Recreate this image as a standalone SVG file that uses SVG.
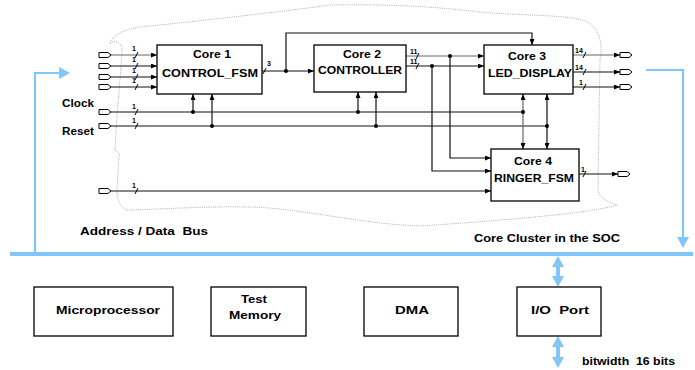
<svg xmlns="http://www.w3.org/2000/svg" width="695" height="370" viewBox="0 0 695 370">
<defs>
<style>
text{font-family:"Liberation Sans",Arial,Helvetica,sans-serif;font-weight:bold;fill:#000}
.t{font-size:10px;text-anchor:middle}
.l{font-size:10px}
.p{white-space:pre}
.n{font-size:7px}
.box{fill:#fff;stroke:#000;stroke-width:1.3}
.w{fill:none;stroke:#111;stroke-width:1.2}
.g{stroke:#666}
.a{marker-end:url(#ah)}
.aa{marker-start:url(#ah);marker-end:url(#ah)}
.port{fill:#fff;stroke:#000;stroke-width:1}
.tick{stroke:#000;stroke-width:1}
.dot{fill:#000}
.bl{fill:none;stroke:#80c6fb;stroke-width:2.2}
.bus{fill:none;stroke:#80c6fb;stroke-width:4}
.ba{marker-end:url(#bh)}
.bb{marker-start:url(#bh);marker-end:url(#bh)}
.cloud{fill:none;stroke:#999;stroke-width:0.8;stroke-dasharray:1 1.2}
</style>
<marker id="ah" markerWidth="6" markerHeight="5" refX="6" refY="2.5" orient="auto-start-reverse" markerUnits="userSpaceOnUse"><path d="M0,0 L6,2.5 L0,5z" fill="#000"/></marker>
<marker id="bh" markerWidth="11" markerHeight="12" refX="0" refY="6" orient="auto-start-reverse" markerUnits="userSpaceOnUse"><path d="M0,0 L11,6 L0,12z" fill="#80c6fb"/></marker>
<path id="port" d="M0,-2.5 H9 L12,0 L9,2.5 H0z"/>
</defs>

<!-- core cluster outline -->
<path class="cloud" d="M115,150 L116,130 C118,100 121,70 122,50 C122,42 114,39 110,44 C111,36 122,30 140,27 C190,22 280,12 330,5 C380,4 430,6 480,12 C520,16 570,14 588,22 C600,30 603,45 600,60 L598,188 C598,198 608,202 617,205 C590,214 480,222 420,226 C360,224 300,208 250,207 C200,206 150,210 127,210 C120,207 117,200 117,190 L119,156 C121,152 116,152 115,150"/>

<!-- blue bus system -->
<g id="bus">
<path class="bus" d="M10,254 H693"/>
<path class="bl ba" d="M35,253 V73 H59"/>
<path class="bl ba" d="M646,70 H683 V237"/>
<path class="bl bb" d="M558,267 V276" style="stroke-width:4"/>
<path class="bl bb" d="M558,347 V357" style="stroke-width:4"/>
</g>

<g id="connectors">
<!-- primary inputs to core 1 -->
<path class="w g a" d="M111,55 H157"/>
<path class="w a" d="M111,66 H157"/>
<path class="w a" d="M111,77 H157"/>
<path class="w a" d="M111,87 H157"/>
<!-- clock / reset -->
<path class="w" d="M111,112 H523"/>
<path class="w" d="M111,126 H547"/>
<path class="w a" d="M193,112 V94"/>
<path class="w a" d="M212,126 V94"/>
<path class="w a" d="M358,112 V92"/>
<path class="w a" d="M376,126 V92"/>
<path class="w g aa" d="M523,94 V149"/>
<path class="w aa" d="M547,94 V149"/>
<!-- input to core 4 -->
<path class="w a" d="M111,191 H491"/>
<!-- core1 out -->
<path class="w a" d="M262,71 H314"/>
<path class="w a" d="M286,71 V33 H532 V45"/>
<!-- core2 outs -->
<path class="w g a" d="M406,56 H484"/>
<path class="w a" d="M406,66 H484"/>
<path class="w a" d="M432,66 V171 H491"/>
<path class="w a" d="M450,56 V158 H491"/>
<!-- core3 outs -->
<path class="w g a" d="M573,55 H620"/>
<path class="w a" d="M573,72 H620"/>
<path class="w a" d="M573,87 H620"/>
<!-- core4 out -->
<path class="w a" d="M579,174 H618"/>

<!-- junctions -->
<circle class="dot" cx="193" cy="112" r="2"/>
<circle class="dot" cx="212" cy="126" r="2"/>
<circle class="dot" cx="358" cy="112" r="2"/>
<circle class="dot" cx="376" cy="126" r="2"/>
<circle class="dot" cx="523" cy="112" r="2"/>
<circle class="dot" cx="547" cy="126" r="2"/>
<circle class="dot" cx="286" cy="71" r="2"/>
<circle class="dot" cx="450" cy="56" r="2"/>
<circle class="dot" cx="432" cy="66" r="2"/>

<!-- ticks -->
<path class="tick" d="M135,58 L138,52 M135,69 L138,63 M135,80 L138,74 M135,90 L138,84 M135,115 L138,109 M135,129 L138,123 M135,194 L138,188 M263,74 L266,68 M416,59 L419,53 M416,69 L419,63 M583,58 L586,52 M583,75 L586,69 M583,90 L586,84 M583,177 L586,171"/>

<!-- ports -->
<use href="#port" class="port" x="99" y="55"/>
<use href="#port" class="port" x="99" y="66"/>
<use href="#port" class="port" x="99" y="77"/>
<use href="#port" class="port" x="99" y="87"/>
<use href="#port" class="port" x="99" y="112"/>
<use href="#port" class="port" x="99" y="126"/>
<use href="#port" class="port" x="99" y="191"/>
<use href="#port" class="port" x="620" y="55"/>
<use href="#port" class="port" x="620" y="72"/>
<use href="#port" class="port" x="620" y="87"/>
<use href="#port" class="port" x="618" y="174"/>

<!-- width labels -->
<text class="n" x="132" y="51">1</text>
<text class="n" x="132" y="62">1</text>
<text class="n" x="132" y="73">1</text>
<text class="n" x="132" y="83">1</text>
<text class="n" x="132" y="109">1</text>
<text class="n" x="132" y="123">1</text>
<text class="n" x="132" y="188">1</text>
<text class="n" x="267" y="66">3</text>
<text class="n" x="410" y="54">11</text>
<text class="n" x="410" y="64">11</text>
<text class="n" x="575" y="53">14</text>
<text class="n" x="575" y="70">14</text>
<text class="n" x="579" y="85">1</text>
<text class="n" x="581" y="172">1</text>
</g>

<g id="core1">
<rect class="box" x="157" y="45" width="105" height="49"/>
<text class="t" x="212" y="58" textLength="38" lengthAdjust="spacingAndGlyphs">Core 1</text>
<text class="t" x="210" y="77" textLength="96" lengthAdjust="spacingAndGlyphs">CONTROL_FSM</text>
</g>
<g id="core2">
<rect class="box" x="314" y="45" width="92" height="47"/>
<text class="t" x="362" y="58" textLength="38" lengthAdjust="spacingAndGlyphs">Core 2</text>
<text class="t" x="360" y="74" textLength="84" lengthAdjust="spacingAndGlyphs">CONTROLLER</text>
</g>
<g id="core3">
<rect class="box" x="484" y="45" width="89" height="49"/>
<text class="t" x="527" y="60" textLength="38" lengthAdjust="spacingAndGlyphs">Core 3</text>
<text class="t" x="530" y="77" textLength="84" lengthAdjust="spacingAndGlyphs">LED_DISPLAY</text>
</g>
<g id="core4">
<rect class="box" x="491" y="149" width="88" height="52"/>
<text class="t" x="533" y="165" textLength="38" lengthAdjust="spacingAndGlyphs">Core 4</text>
<text class="t" x="534" y="182" textLength="80" lengthAdjust="spacingAndGlyphs">RINGER_FSM</text>
</g>

<g id="labels">
<text class="l" x="62" y="107" textLength="32" lengthAdjust="spacingAndGlyphs">Clock</text>
<text class="l" x="62" y="135" textLength="32" lengthAdjust="spacingAndGlyphs">Reset</text>
<text class="l p" x="80" y="235" textLength="128" lengthAdjust="spacingAndGlyphs">Address / Data  Bus</text>
<text class="l" x="474" y="242" textLength="146" lengthAdjust="spacingAndGlyphs">Core Cluster in the SOC</text>
<text class="l p" x="582" y="365" textLength="93" lengthAdjust="spacingAndGlyphs">bitwidth  16 bits</text>
</g>

<g id="microprocessor">
<rect class="box" x="34" y="287" width="139" height="49"/>
<text class="t" x="108" y="314" textLength="104" lengthAdjust="spacingAndGlyphs">Microprocessor</text>
</g>
<g id="testmemory">
<rect class="box" x="211" y="287" width="95" height="49"/>
<text class="t" x="254" y="303" textLength="26" lengthAdjust="spacingAndGlyphs">Test</text>
<text class="t" x="255" y="319" textLength="52" lengthAdjust="spacingAndGlyphs">Memory</text>
</g>
<g id="dma">
<rect class="box" x="364" y="287" width="94" height="49"/>
<text class="t" x="412" y="314" textLength="34" lengthAdjust="spacingAndGlyphs">DMA</text>
</g>
<g id="ioport">
<rect class="box" x="517" y="287" width="84" height="49"/>
<text class="t p" x="560" y="314" textLength="58" lengthAdjust="spacingAndGlyphs">I/O  Port</text>
</g>
</svg>
